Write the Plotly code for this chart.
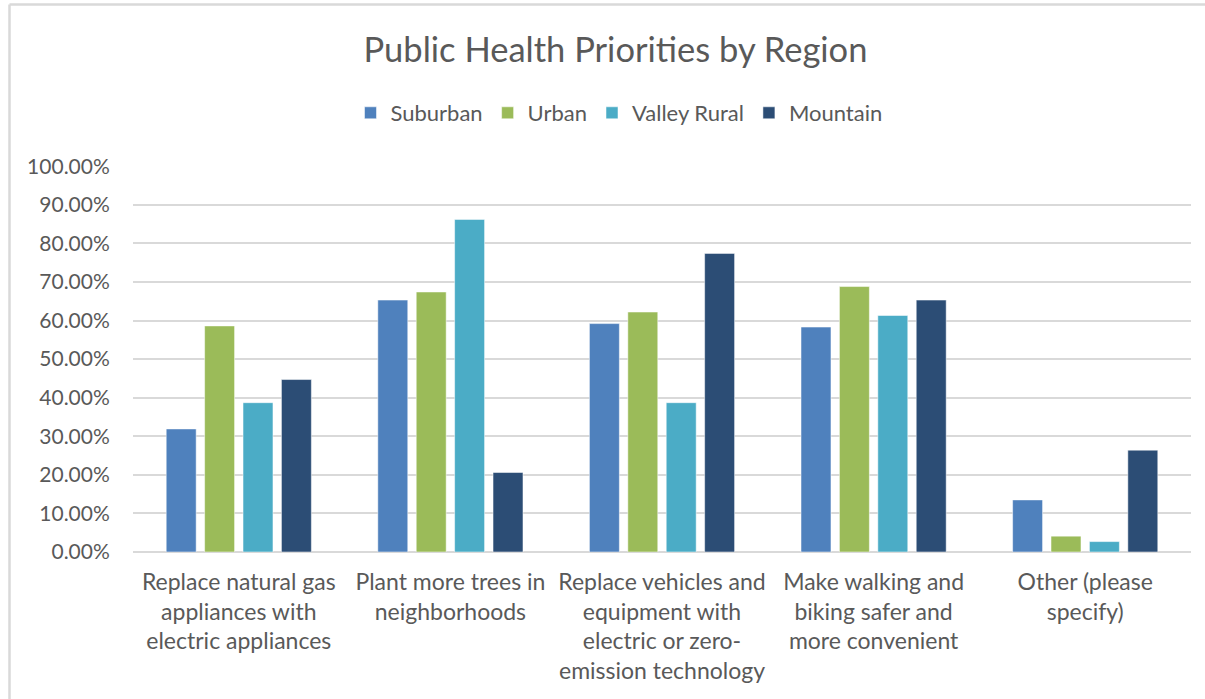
import plotly.graph_objects as go

categories = [
    "Replace natural gas<br>appliances with<br>electric appliances",
    "Plant more trees in<br>neighborhoods",
    "Replace vehicles and<br>equipment with<br>electric or zero-<br>emission technology",
    "Make walking and<br>biking safer and<br>more convenient",
    "Other (please<br>specify)",
]
suburban = [0.319, 0.653, 0.592, 0.583, 0.135]
urban = [0.586, 0.674, 0.622, 0.688, 0.041]
valley_rural = [0.387, 0.862, 0.387, 0.613, 0.027]
mountain = [0.447, 0.206, 0.774, 0.653, 0.264]

series = [
    ("Suburban", suburban, "#4F81BD"),
    ("Urban", urban, "#9BBB59"),
    ("Valley Rural", valley_rural, "#4BACC6"),
    ("Mountain", mountain, "#2C4D75"),
]

FONT = "Lato, Carlito, Calibri, sans-serif"
TXT = "#595959"

fig = go.Figure()
for name, vals, color in series:
    fig.add_trace(go.Bar(
        name=name, x=categories, y=vals,
        marker=dict(color=color, line=dict(color="rgba(255,255,255,0.5)", width=1)),
    ))

W, H = 1205, 699
ml, mr, mt, mb = 133, 14, 166, 147
pw, ph = W - ml - mr, H - mt - mb

def px_x(p):
    return (p - ml) / pw

def px_y(p):
    return (H - mb - p) / ph

fig.update_layout(
    width=W, height=H,
    margin=dict(l=ml, r=mr, t=mt, b=mb, autoexpand=False),
    paper_bgcolor="white", plot_bgcolor="white",
    font=dict(family=FONT, color=TXT, size=22),
    title=dict(text="Public Health Priorities by Region", x=615.5 / W, xanchor="center",
               y=1 - 50 / H, yanchor="middle",
               font=dict(family=FONT, size=34.5, color=TXT)),
    barmode="group", bargap=0.274, bargroupgap=0.22,
    legend=dict(orientation="h", x=px_x(619), xanchor="center", y=px_y(113), yanchor="middle",
                font=dict(family=FONT, size=22, color=TXT), traceorder="normal",
                itemclick=False),
    xaxis=dict(showgrid=False, showline=False, ticks="outside", ticklen=9,
               tickcolor="rgba(0,0,0,0)", tickangle=0,
               tickfont=dict(family=FONT, size=23, color=TXT)),
    yaxis=dict(range=[0, 1.0005], dtick=0.1, tickformat=".2%", showgrid=True,
               gridcolor="#D9D9D9", gridwidth=1.5, zeroline=True, zerolinecolor="#D9D9D9",
               zerolinewidth=1.5, showline=False, ticks="outside", ticklen=18,
               tickcolor="rgba(0,0,0,0)",
               tickfont=dict(family=FONT, size=21, color=TXT)),
    shapes=[
        dict(type="line", xref="paper", yref="paper", x0=px_x(9.5), x1=px_x(9.5),
             y0=px_y(4.5), y1=px_y(699), line=dict(color="#D9D9D9", width=2.5)),
        dict(type="line", xref="paper", yref="paper", x0=px_x(9.5), x1=px_x(1205),
             y0=px_y(4.5), y1=px_y(4.5), line=dict(color="#D9D9D9", width=2.5)),
    ],
)

fig.write_html("out.html", config={"displayModeBar": False},
               post_script="document.body.style.margin='0';document.body.style.overflow='hidden';")
